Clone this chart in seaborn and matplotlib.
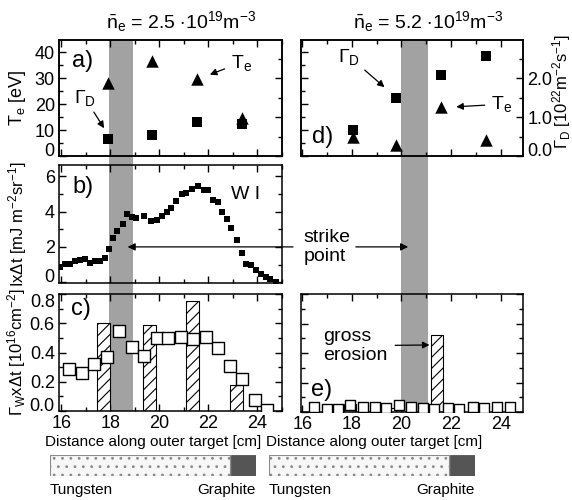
import numpy as np
import pandas as pd
import seaborn as sns
import matplotlib.pyplot as plt
from matplotlib.ticker import MultipleLocator, FormatStrFormatter

sns.set_theme(style="ticks")
plt.rcParams['font.family'] = ['Liberation Sans', 'DejaVu Sans']
plt.rcParams['mathtext.fontset'] = 'custom'
plt.rcParams['mathtext.rm'] = 'Liberation Sans'
plt.rcParams['mathtext.it'] = 'Liberation Sans:italic'
plt.rcParams['mathtext.bf'] = 'Liberation Sans:bold'
plt.rcParams['hatch.linewidth'] = 0.8
plt.rcParams['text.color'] = 'black'
plt.rcParams['axes.labelcolor'] = 'black'
plt.rcParams['xtick.color'] = 'black'
plt.rcParams['ytick.color'] = 'black'

# ---- data ----
# panel a (low density)
probe_x_low = [17.91, 19.68, 21.52, 23.36]
te_low = [28, 36.5, 29.5, 14.5]
gd_low = [0.44, 0.53, 0.87, 0.81]

# panel d (high density)
probe_x_high = [18.05, 19.78, 21.58, 23.39]
te_high = [7.3, 4.3, 19.0, 6.0]
gd_high = [0.66, 1.5, 2.08, 2.56]

# panel b, W I intensity
wi_x = [15.94, 16.15, 16.35, 16.55, 16.76, 16.98, 17.18, 17.38, 17.57, 17.78,
        17.95, 18.1, 18.27, 18.52, 18.68, 18.87, 19.05, 19.38, 19.66, 19.88,
        20.1, 20.29, 20.49, 20.66, 20.92, 21.1, 21.33, 21.58, 21.8, 21.97,
        22.17, 22.4, 22.57, 22.74, 22.91, 23.18, 23.37, 23.55, 23.75, 23.95,
        24.15, 24.33, 24.53, 24.77]
wi_y = [0.87, 1.02, 1.05, 1.18, 1.28, 1.32, 1.09, 1.22, 1.22, 1.38,
        1.89, 2.49, 2.92, 3.28, 3.87, 3.7, 3.62, 3.77, 3.45, 3.55,
        3.73, 3.96, 4.2, 4.6, 5.0, 5.08, 5.27, 5.45, 5.22, 5.25,
        4.68, 4.56, 4.0, 3.59, 3.08, 2.41, 1.68, 1.05, 0.95, 0.66,
        0.45, 0.3, 0.15, 0.02]

# panel c, W flux (squares) and gross erosion (bars)
c_sq_x = [16.32, 16.82, 17.34, 17.84, 18.35, 18.89, 19.37, 19.89, 20.36,
          20.87, 21.38, 21.89, 22.4, 22.88, 23.38, 23.9, 24.37]
c_sq_y = [0.29, 0.26, 0.32, 0.37, 0.55, 0.44, 0.375, 0.5, 0.5,
          0.507, 0.49, 0.51, 0.43, 0.31, 0.22, 0.078, 0.005]
c_bar_x = [17.73, 19.58, 21.36, 23.15]
c_bar_h = [0.60, 0.59, 0.75, 0.18]

# panel e
e_sq_x = [16.48, 16.98, 17.45, 17.92, 18.45, 18.92, 19.39, 19.92, 20.39,
          20.86, 21.33, 21.86, 22.33, 22.87, 23.33, 23.86, 24.39]
e_sq_y = [0.033, 0.022, 0.022, 0.05, 0.033, 0.033, 0.025, 0.045, 0.033,
          0.025, 0.022, 0.025, 0.02, 0.033, 0.025, 0.033, 0.033]
e_bar_x = [17.92, 19.55, 21.44, 23.17]
e_bar_h = [0.055, 0.03, 0.52, 0.045]

strike_low = (17.92, 18.94)
strike_high = (20.0, 21.05)

materials = ['Tungsten', 'Graphite']
mat_left = [0.0, 0.88]
mat_width = [0.875, 0.12]

W, H = 572, 500
XL = (15.9, 25.0)
XR = (15.95, 24.9)


def box(x0, y0, x1, y1):
    return [x0 / W, 1 - y1 / H, (x1 - x0) / W, (y1 - y0) / H]


def px(x, y):
    return (x / W, 1 - y / H)


def style(ax, xlim, ylim, ymaj, ymin, right=True):
    ax.set_xlim(xlim)
    ax.set_ylim(ylim)
    ax.xaxis.set_major_locator(MultipleLocator(2))
    ax.xaxis.set_minor_locator(MultipleLocator(1))
    ax.yaxis.set_major_locator(MultipleLocator(ymaj))
    ax.yaxis.set_minor_locator(MultipleLocator(ymin))
    ax.tick_params(which='both', direction='in', top=True, right=right,
                   labelsize=13, width=1, colors='black', pad=3)
    ax.tick_params(which='major', length=5)
    ax.tick_params(which='minor', length=3)
    for s in ax.spines.values():
        s.set_linewidth(1.1)
        s.set_color('black')
    ax.set_facecolor('none')
    ax.set_xlabel('')
    ax.set_ylabel('')


def nudge(ax, value, va, right=False):
    # edge tick labels sit inside the frame, as in the original
    for loc, tick in zip(ax.yaxis.get_majorticklocs(), ax.yaxis.get_major_ticks()):
        if abs(loc - value) < 1e-6:
            (tick.label2 if right else tick.label1).set_verticalalignment(va)


fig = plt.figure(figsize=(5.72, 5.0), dpi=100)

# strike point bands behind the panels
band_l = fig.add_axes(box(59, 40, 282, 411), zorder=-1)
band_l.set_xlim(XL)
band_l.axvspan(*strike_low, color='#a2a2a2', lw=0)
band_l.axis('off')
band_r = fig.add_axes(box(301, 40, 523, 412), zorder=-1)
band_r.set_xlim(XR)
band_r.axvspan(*strike_high, color='#a2a2a2', lw=0)
band_r.axis('off')

# ---- panel a ----
ax_a = fig.add_axes(box(59, 40, 282, 156))
style(ax_a, XL, (0, 44.7), 10, 5, right=False)
ax_a2 = ax_a.twinx()
style(ax_a2, XL, (0, 2.98), 1.0, 0.5)
ax_a2.tick_params(labelright=False, left=False, labelbottom=False, bottom=False, top=False)
sns.scatterplot(x=probe_x_low, y=te_low, ax=ax_a, marker='^', s=80, color='black', linewidth=0)
sns.scatterplot(x=probe_x_low, y=gd_low, ax=ax_a2, marker='s', s=55, color='black', linewidth=0)
ax_a.tick_params(labelbottom=False)
ax_a2.set_ylabel('')
ax_a.text(16.45, 36.5, 'a)', fontsize=17, va='center', ha='left')
ax_a.annotate(r'T$_\mathrm{e}$', xy=(21.95, 31), xytext=(22.9, 36), fontsize=14,
              va='center', ha='left',
              arrowprops=dict(arrowstyle='-|>', color='black', lw=0.9, mutation_scale=10, shrinkA=2))
ax_a.annotate(r'$\Gamma_\mathrm{D}$', xy=(17.8, 9.8), xytext=(16.95, 22.5), fontsize=14,
              va='center', ha='center',
              arrowprops=dict(arrowstyle='-|>', color='black', lw=0.9, mutation_scale=10, shrinkA=1))

# ---- panel d ----
ax_d = fig.add_axes(box(301, 40, 523, 156))
style(ax_d, XR, (0, 44.7), 10, 5, right=False)
ax_d.tick_params(labelleft=False, labelbottom=False)
ax_d2 = ax_d.twinx()
style(ax_d2, XR, (0, 2.98), 1.0, 0.5)
ax_d2.tick_params(left=False, bottom=False, top=False, labelbottom=False)
ax_d2.yaxis.set_major_formatter(FormatStrFormatter('%.1f'))
sns.scatterplot(x=probe_x_high, y=te_high, ax=ax_d, marker='^', s=80, color='black', linewidth=0)
sns.scatterplot(x=probe_x_high, y=gd_high, ax=ax_d2, marker='s', s=55, color='black', linewidth=0)
ax_d2.set_ylabel('')
ax_d2.text(16.4, 0.48, 'd)', fontsize=17, va='center', ha='left')
ax_d2.annotate(r'$\Gamma_\mathrm{D}$', xy=(19.4, 1.72), xytext=(17.9, 2.55), fontsize=14,
               va='center', ha='center',
               arrowprops=dict(arrowstyle='-|>', color='black', lw=0.9, mutation_scale=10, shrinkA=1))
ax_d2.annotate(r'T$_\mathrm{e}$', xy=(22.1, 1.26), xytext=(23.6, 1.33), fontsize=14,
               va='center', ha='left',
               arrowprops=dict(arrowstyle='-|>', color='black', lw=0.9, mutation_scale=10, shrinkA=2))

# ---- panel b ----
ax_b = fig.add_axes(box(59, 165, 282, 283))
style(ax_b, XL, (-0.05, 6.65), 2, 1)
sns.scatterplot(x=wi_x, y=wi_y, ax=ax_b, marker='s', s=20, color='black', linewidth=0)
ax_b.set_xlabel('')
ax_b.set_ylabel('')
ax_b.tick_params(labelbottom=False)
ax_b.text(16.45, 5.4, 'b)', fontsize=17, va='center', ha='left')
ax_b.text(22.9, 4.95, 'W I', fontsize=14, va='center', ha='left')
ax_b.annotate('', xy=(18.7, 2.0), xytext=(25.45, 2.0), annotation_clip=False,
              arrowprops=dict(arrowstyle='-|>', color='black', lw=0.9, mutation_scale=11,
                              shrinkA=0, shrinkB=0))

# invisible middle right region for strike point label
ax_m = fig.add_axes(box(301, 165, 523, 283))
ax_m.set_xlim(XR)
ax_m.set_ylim(-0.05, 6.65)
ax_m.axis('off')
ax_m.text(16.05, 2.0, 'strike\npoint', fontsize=14, va='center', ha='left', linespacing=1.15)
ax_m.annotate('', xy=(20.27, 2.0), xytext=(18.16, 2.0),
              arrowprops=dict(arrowstyle='-|>', color='black', lw=0.9, mutation_scale=11,
                              shrinkA=0, shrinkB=0))

# ---- panel c ----
ax_c = fig.add_axes(box(59, 294, 282, 411))
style(ax_c, XL, (0, 0.801), 0.2, 0.1)
ax_c.yaxis.set_major_formatter(FormatStrFormatter('%.1f'))
ax_c.bar(c_bar_x, c_bar_h, width=0.52, color='white', edgecolor='black', hatch='///',
         linewidth=0.8, zorder=2)
sns.scatterplot(x=c_sq_x, y=c_sq_y, ax=ax_c, marker='s', s=64, color='white',
                edgecolor='black', linewidth=1, zorder=3)
ax_c.set_xlabel('')
ax_c.set_ylabel('')
ax_c.text(16.4, 0.70, 'c)', fontsize=17, va='center', ha='left')

# ---- panel e ----
ax_e = fig.add_axes(box(301, 294, 523, 412))
style(ax_e, XR, (0, 0.801), 0.2, 0.1)
ax_e.tick_params(labelleft=False)
ax_e.bar(e_bar_x, e_bar_h, width=0.5, color='white', edgecolor='black', hatch='///',
         linewidth=0.8, zorder=2)
sns.scatterplot(x=e_sq_x, y=e_sq_y, ax=ax_e, marker='s', s=55, color='white',
                edgecolor='black', linewidth=1, zorder=3)
ax_e.set_xlabel('')
ax_e.set_ylabel('')
ax_e.text(16.35, 0.15, 'e)', fontsize=17, va='center', ha='left')
ax_e.annotate('gross\nerosion', xy=(21.13, 0.455), xytext=(16.85, 0.45), fontsize=14,
              va='center', ha='left', linespacing=1.15,
              arrowprops=dict(arrowstyle='-|>', color='black', lw=0.9, mutation_scale=10,
                              shrinkA=3, shrinkB=0))

# ---- axis labels / titles ----
fig.text(*px(181, 22), r'$\bar{\mathrm{n}}_\mathrm{e}$ = 2.5 $\cdot$10$^{19}$m$^{-3}$',
         fontsize=14, ha='center', va='center')
fig.text(*px(428, 22), r'$\bar{\mathrm{n}}_\mathrm{e}$ = 5.2 $\cdot$10$^{19}$m$^{-3}$',
         fontsize=14, ha='center', va='center')
fig.text(*px(18, 98), r'T$_\mathrm{e}$ [eV]', rotation=90, fontsize=13, ha='center', va='center')
fig.text(*px(18, 224), r'Ix$\Delta$t [mJ m$^{-2}$sr$^{-1}$]', rotation=90, fontsize=12,
         ha='center', va='center')
fig.text(*px(17, 352), r'$\Gamma_\mathrm{W}$x$\Delta$t [10$^{16}$cm$^{-2}$]', rotation=90,
         fontsize=12, ha='center', va='center')
fig.text(*px(562, 92), r'$\Gamma_\mathrm{D}$ [10$^{22}$m$^{-2}$s$^{-1}$]', rotation=90,
         fontsize=12, ha='center', va='center')
fig.text(*px(153, 442), 'Distance along outer target [cm]', fontsize=11, ha='center', va='center')
fig.text(*px(374, 442), 'Distance along outer target [cm]', fontsize=11, ha='center', va='center')

# ---- material strips ----
for x0, x1 in [(50, 256), (269, 475)]:
    ax_s = fig.add_axes(box(x0, 455, x1, 476))
    ax_s.set_xlim(0, 1)
    ax_s.set_ylim(0, 1)
    ax_s.axis('off')
    ax_s.barh(0.5, mat_width[0], left=mat_left[0], height=0.96, color='#f7f7f7',
              edgecolor='#8a8a8a', hatch='..', linewidth=0.8)
    ax_s.barh(0.5, mat_width[1], left=mat_left[1], height=1.0, color='#555555',
              edgecolor='#444444', linewidth=0.5)
    fig.text(*px(x0, 490), materials[0], fontsize=11, ha='left', va='center')
    fig.text(*px(x1, 490), materials[1], fontsize=11, ha='right', va='center')

fig.canvas.draw()
nudge(ax_a, 0, 'baseline')
nudge(ax_b, 0, 'baseline')
nudge(ax_c, 0, 'baseline')
nudge(ax_c, 0.8, 'top')
nudge(ax_d2, 0, 'baseline', right=True)

fig.savefig('out.png', dpi=100, facecolor='white')
